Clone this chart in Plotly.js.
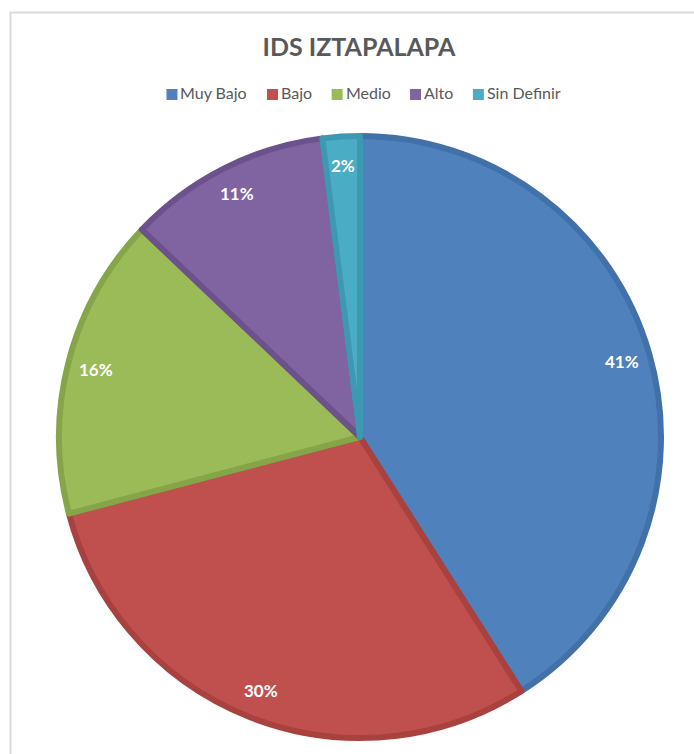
<!DOCTYPE html>
<html>
<head>
<meta charset="utf-8">
<script src="https://cdn.plot.ly/plotly-3.0.1.min.js"></script>
<style>
  html, body { margin: 0; padding: 0; background: #ffffff; }
  #chart { width: 694px; height: 754px; }
</style>
</head>
<body>
<div id="chart"></div>
<script>
const chartTitle = 'IDS IZTAPALAPA';
const categories = ['Muy Bajo', 'Bajo', 'Medio', 'Alto', 'Sin Definir'];
const values = [41.0, 29.9, 16.2, 10.9, 2.0];
const fillColors = ['#4F81BD', '#C0504D', '#9BBB59', '#8064A2', '#4BACC6'];
const lineColors = ['#4271A9', '#A9423F', '#86A549', '#6C528D', '#3C99B1'];

const W = 694, H = 754;
const cx = 360, cy = 437, R = 301;   // pie centre / radius in px
const fontFam = 'Lato, "Open Sans", "Liberation Sans", sans-serif';
const legendFontSize = 16;

const total = values.reduce((a, b) => a + b, 0);
const px2x = p => p / W;
const px2y = p => 1 - p / H;

// data labels at "inside end" of each slice, computed from the values
const annotations = [];
const shapes = [];
let cum = 0;
values.forEach((v, i) => {
  const mid = (cum + v / 2) / total * 2 * Math.PI;  // clockwise from 12 o'clock
  cum += v;
  const r = R * 0.905;
  annotations.push({
    x: px2x(cx + r * Math.sin(mid)), y: px2y(cy - r * Math.cos(mid)),
    xref: 'paper', yref: 'paper',
    text: Math.round(v / total * 100) + '%',
    showarrow: false, xanchor: 'center', yanchor: 'middle',
    font: { family: fontFam, size: 17, color: '#ffffff', weight: 'bold' }
  });
});

// custom horizontal legend (small squares + text), laid out from measured text widths
const ctx = document.createElement('canvas').getContext('2d');
ctx.font = legendFontSize + 'px Lato';
const sq = 11, sqGap = 3, itemGap = 19.5, legendCx = 363.5, legendCy = 94.5;
const widths = categories.map(c => ctx.measureText(c).width);
const legendW = widths.reduce((a, w) => a + sq + sqGap + w, 0) + itemGap * (categories.length - 1);
let lx = legendCx - legendW / 2;
categories.forEach((c, i) => {
  shapes.push({
    type: 'rect', xref: 'paper', yref: 'paper',
    x0: px2x(lx), x1: px2x(lx + sq),
    y0: px2y(legendCy + sq / 2), y1: px2y(legendCy - sq / 2),
    fillcolor: fillColors[i], line: { width: 0 }
  });
  annotations.push({
    x: px2x(lx + sq + sqGap - 2), y: px2y(legendCy - 1.5),
    xref: 'paper', yref: 'paper', text: c, showarrow: false,
    xanchor: 'left', yanchor: 'middle',
    font: { family: fontFam, size: legendFontSize, color: '#595959' }
  });
  lx += sq + sqGap + widths[i] + itemGap;
});

// chart-area border (only top and left edges fall inside the picture)
shapes.push({
  type: 'rect', xref: 'paper', yref: 'paper',
  x0: px2x(10.5), x1: 1.2, y0: -0.2, y1: px2y(12.5),
  line: { color: '#D9D9D9', width: 2 }, fillcolor: 'rgba(0,0,0,0)'
});

const trace = {
  type: 'pie',
  labels: categories,
  values: values,
  sort: false,
  direction: 'clockwise',
  rotation: 0,
  textinfo: 'none',
  hoverinfo: 'label+percent',
  showlegend: false,
  marker: { colors: fillColors, line: { color: lineColors, width: 6 } },
  domain: {
    x: [(cx - R) / W, (cx + R) / W],
    y: [(H - cy - R) / H, (H - cy + R) / H]
  }
};

const layout = {
  width: W, height: H,
  margin: { l: 0, r: 0, t: 0, b: 0 },
  paper_bgcolor: '#ffffff',
  plot_bgcolor: '#ffffff',
  title: {
    text: '<b>' + chartTitle + '</b>',
    x: px2x(359), xanchor: 'center',
    y: px2y(47), yanchor: 'middle',
    xref: 'paper', yref: 'paper',
    font: { family: fontFam, size: 25, color: '#595959' }
  },
  showlegend: false,
  annotations: annotations,
  shapes: shapes
};

Plotly.newPlot('chart', [trace], layout, { displayModeBar: false, staticPlot: true });
</script>
</body>
</html>
